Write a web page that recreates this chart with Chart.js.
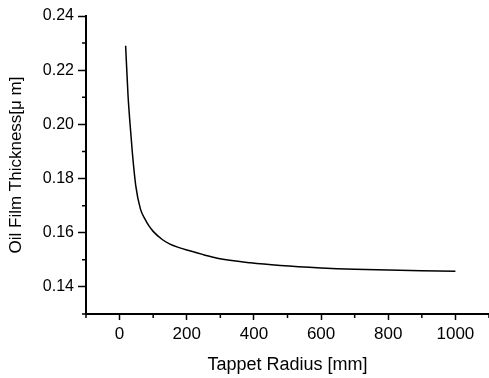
<!DOCTYPE html>
<html>
<head>
<meta charset="utf-8">
<script src="https://cdn.jsdelivr.net/npm/chart.js@4/dist/chart.umd.min.js"></script>
<style>
    html, body { margin: 0; padding: 0; background: #fff; }
    #wrap { width: 489px; height: 378px; }
</style>
</head>
<body>
<div id="wrap"><canvas id="chart" width="489" height="378"></canvas></div>
<script>
// values
const radius = [18, 25, 30, 38, 48, 62, 75, 87, 100, 127, 150, 177, 200, 250, 291, 390, 479, 600, 700, 800, 900, 1000];
const thickness = [0.229, 0.211, 0.202, 0.1896, 0.1775, 0.1688, 0.1652, 0.1626, 0.1605, 0.1575, 0.1558, 0.1545, 0.1536, 0.1519, 0.1506, 0.1489, 0.1479, 0.147, 0.1465, 0.1462, 0.146, 0.1458];

const xTicks = [0, 200, 400, 600, 800, 1000];
const xMinor = [-100, 100, 300, 500, 700, 900, 1100];
const yTicks = [0.14, 0.16, 0.18, 0.20, 0.22, 0.24];
const yMinor = [0.13, 0.15, 0.17, 0.19, 0.21, 0.23];

// small outward ticks between the labelled ones
const minorTicks = {
    id: 'minorTicks',
    afterDraw(chart) {
        const ctx = chart.ctx;
        const area = chart.chartArea;
        const xs = chart.scales.x;
        const ys = chart.scales.y;
        ctx.save();
        ctx.strokeStyle = '#000';
        ctx.lineWidth = 1.5;
        ctx.beginPath();
        xMinor.forEach(v => {
            const px = xs.getPixelForValue(v);
            ctx.moveTo(px, area.bottom);
            ctx.lineTo(px, area.bottom + 4);
        });
        yMinor.forEach(v => {
            const py = ys.getPixelForValue(v);
            ctx.moveTo(area.left, py);
            ctx.lineTo(area.left - 4, py);
        });
        ctx.stroke();
        ctx.restore();
    }
};

new Chart(document.getElementById('chart'), {
    type: 'scatter',
    data: {
        datasets: [{
            data: radius.map((r, i) => ({ x: r, y: thickness[i] })),
            showLine: true,
            borderColor: '#000',
            borderWidth: 1.5,
            pointRadius: 0,
            cubicInterpolationMode: 'monotone'
        }]
    },
    options: {
        responsive: false,
        animation: false,
        layout: { padding: { left: 2, top: 16, right: 0, bottom: 0 } },
        plugins: { legend: { display: false }, tooltip: { enabled: false } },
        scales: {
            x: {
                type: 'linear',
                min: -100,
                max: 1100,
                afterBuildTicks: scale => { scale.ticks = xTicks.map(v => ({ value: v })); },
                afterFit: scale => { scale.height = 64; },
                grid: { drawOnChartArea: false, tickLength: 6, tickColor: '#000', tickWidth: 1.5 },
                border: { color: '#000', width: 2 },
                ticks: {
                    color: '#000',
                    padding: 4,
                    maxRotation: 0,
                    callback: v => String(v),
                    font: { family: 'Liberation Sans, Arial', size: 17 }
                },
                title: {
                    display: true,
                    text: 'Tappet Radius [mm]',
                    color: '#000',
                    padding: { top: 0, bottom: 2 },
                    font: { family: 'Liberation Sans, Arial', size: 18 }
                }
            },
            y: {
                min: 0.13,
                max: 0.24,
                afterBuildTicks: scale => { scale.ticks = yTicks.map(v => ({ value: v })); },
                afterFit: scale => { scale.width = 84; },
                grid: { drawOnChartArea: false, tickLength: 8, tickColor: '#000', tickWidth: 1.5 },
                border: { color: '#000', width: 2 },
                ticks: {
                    color: '#000',
                    padding: 4,
                    callback: v => v.toFixed(2),
                    font: { family: 'Liberation Sans, Arial', size: 16 }
                },
                title: {
                    display: true,
                    text: 'Oil Film Thickness[μ m]',
                    color: '#000',
                    padding: { top: 4, bottom: 0 },
                    font: { family: 'Liberation Sans, Arial', size: 17 }
                }
            }
        }
    },
    plugins: [minorTicks]
});
</script>
</body>
</html>
